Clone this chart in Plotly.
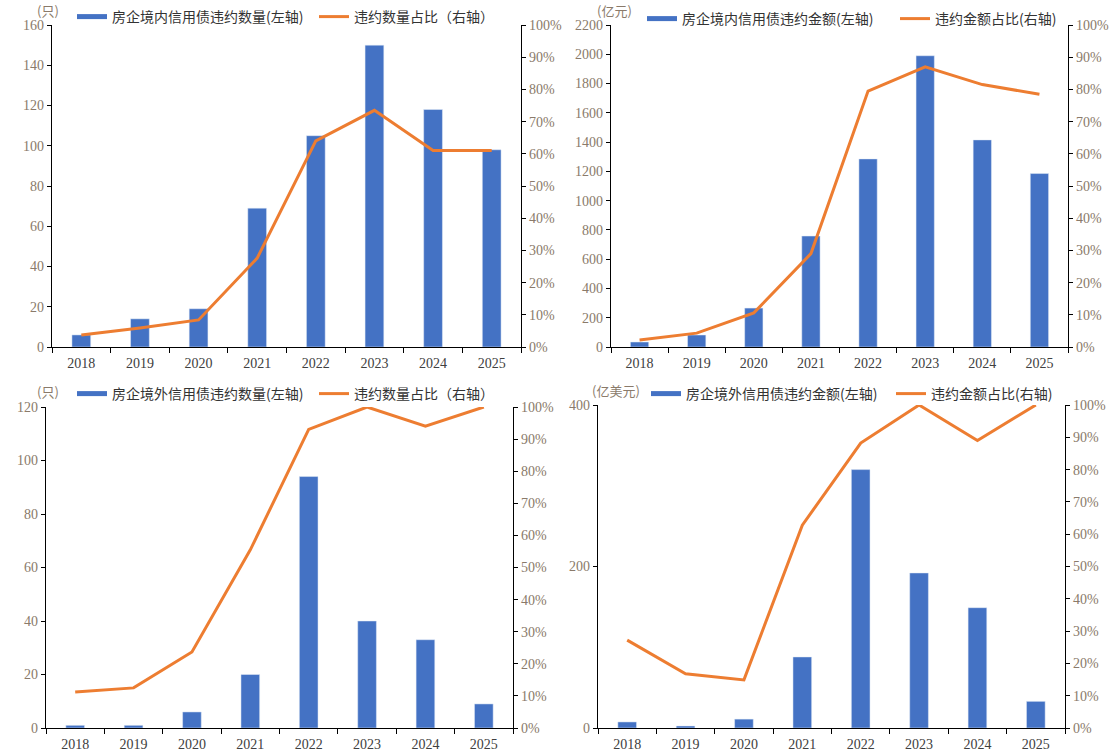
import plotly.graph_objects as go

years = ["2018", "2019", "2020", "2021", "2022", "2023", "2024", "2025"]

# Panel 1: domestic credit bond defaults (count)
dom_count = [6, 14, 19, 69, 105, 150, 118, 98]
dom_count_share = [0.037, 0.059, 0.084, 0.276, 0.64, 0.735, 0.61, 0.61]

# Panel 2: domestic credit bond defaults (amount, 亿元)
dom_amount = [34, 82, 266, 758, 1285, 1990, 1415, 1185]
dom_amount_share = [0.022, 0.043, 0.106, 0.29, 0.795, 0.87, 0.815, 0.785]

# Panel 3: overseas credit bond defaults (count)
ovs_count = [1, 1, 6, 20, 94, 40, 33, 9]
ovs_count_share = [0.112, 0.125, 0.237, 0.555, 0.93, 1.0, 0.94, 1.0]

# Panel 4: overseas credit bond defaults (amount, 亿美元)
ovs_amount = [7.5, 2.5, 11, 88, 320, 192, 149, 33]
ovs_amount_share = [0.272, 0.168, 0.149, 0.628, 0.882, 1.0, 0.89, 1.0]

BLUE = "#4472C4"
ORANGE = "#ED7D31"
SERIF = "Liberation Serif, Times New Roman, serif"
TICKFONT_Y = dict(family=SERIF, size=14, color="#8a7a6a")
TICKFONT_X = dict(family=SERIF, size=14, color="#404040")
LEGFONT = dict(family="Noto Sans CJK SC", size=14, color="#333333")

W, H = 1118, 754

def px_x(p):
    return p / W

def px_y(p):
    return 1 - p / H

panels = [
    dict(bars=dom_count, line=dom_count_share, x0=52, x1=521, y0=25, y1=347,
         yrange=[0, 160], dtick=20, unit="(只)", unit_x=48, unit_y=11,
         bar_name="房企境内信用债违约数量(左轴)", line_name="违约数量占比（右轴）",
         leg_x=72, leg_y=17, entry=197),
    dict(bars=dom_amount, line=dom_amount_share, x0=611, x1=1068, y0=25, y1=347,
         yrange=[0, 2200], dtick=200, unit="(亿元)", unit_x=614, unit_y=11,
         bar_name="房企境内信用债违约金额(左轴)", line_name="违约金额占比(右轴)",
         leg_x=642, leg_y=19, entry=208),
    dict(bars=ovs_count, line=ovs_count_share, x0=46, x1=513, y0=407, y1=728,
         yrange=[0, 120], dtick=20, unit="(只)", unit_x=48, unit_y=391,
         bar_name="房企境外信用债违约数量(左轴)", line_name="违约数量占比（右轴）",
         leg_x=72, leg_y=394, entry=197),
    dict(bars=ovs_amount, line=ovs_amount_share, x0=598, x1=1065, y0=405, y1=728,
         yrange=[0, 400], dtick=200, unit="(亿美元)", unit_x=616, unit_y=390,
         bar_name="房企境外信用债违约金额(左轴)", line_name="违约金额占比(右轴)",
         leg_x=646, leg_y=394, entry=200),
]

fig = go.Figure()
layout = dict(
    width=W, height=H, margin=dict(l=0, r=0, t=0, b=0, autoexpand=False),
    paper_bgcolor="white", plot_bgcolor="white", annotations=[],
)

for i, p in enumerate(panels):
    n = i + 1
    xa = "x" if n == 1 else f"x{n}"
    yl = f"y{2*n-1}" if 2 * n - 1 > 1 else "y"
    yr = f"y{2*n}"
    leg = "legend" if n == 1 else f"legend{n}"

    fig.add_trace(go.Bar(x=years, y=p["bars"], xaxis=xa, yaxis=yl, marker_color=BLUE,
                         showlegend=False, width=0.32))
    fig.add_trace(go.Scatter(x=years, y=p["line"], xaxis=xa, yaxis=yr, mode="lines",
                             line=dict(color=ORANGE, width=3), showlegend=False))
    # legend-only entries
    fig.add_trace(go.Scatter(x=[None], y=[None], xaxis=xa, yaxis=yl, mode="lines",
                             line=dict(color=BLUE, width=5), name=p["bar_name"], legend=leg))
    fig.add_trace(go.Scatter(x=[None], y=[None], xaxis=xa, yaxis=yl, mode="lines",
                             line=dict(color=ORANGE, width=3), name=p["line_name"], legend=leg))

    xdom = [px_x(p["x0"]), px_x(p["x1"])]
    ydom = [px_y(p["y1"]), px_y(p["y0"])]
    xkey = "xaxis" if n == 1 else f"xaxis{n}"
    ylkey = "yaxis" if 2 * n - 1 == 1 else f"yaxis{2*n-1}"
    yrkey = f"yaxis{2*n}"
    layout[xkey] = dict(domain=xdom, anchor=yl, type="category", tickson="boundaries",
                        ticks="outside", ticklen=5, tickcolor="black", showline=True,
                        linecolor="black", linewidth=1.2, showgrid=False, tickfont=TICKFONT_X,
                        range=[-0.5, 7.5], automargin=False, ticklabelstandoff=3)
    layout[ylkey] = dict(domain=ydom, anchor=xa, range=p["yrange"], dtick=p["dtick"],
                         ticks="outside", ticklen=4, tickcolor="black", showline=True,
                         linecolor="black", linewidth=1.2, showgrid=False, zeroline=False,
                         tickfont=TICKFONT_Y, automargin=False)
    layout[yrkey] = dict(domain=ydom, anchor=xa, overlaying=yl, side="right",
                         range=[0, 1], dtick=0.1, tickformat=".0%",
                         ticks="outside", ticklen=4, tickcolor="black", showline=True,
                         linecolor="black", linewidth=1.2, showgrid=False, zeroline=False,
                         tickfont=TICKFONT_Y, automargin=False)
    layout[leg] = dict(orientation="h", x=px_x(p["leg_x"]), y=px_y(p["leg_y"]),
                       xanchor="left", yanchor="middle", font=LEGFONT,
                       bgcolor="rgba(0,0,0,0)", itemwidth=30, tracegroupgap=0,
                       entrywidth=p["entry"], entrywidthmode="pixels")
    layout["annotations"].append(dict(
        text=p["unit"], x=px_x(p["unit_x"]), y=px_y(p["unit_y"]), xref="paper", yref="paper",
        showarrow=False, xanchor="center", yanchor="middle",
        font=dict(family="Noto Sans CJK SC", size=13, color="#8a7a6a")))

fig.update_layout(**layout)
fig.write_html("out.html")
